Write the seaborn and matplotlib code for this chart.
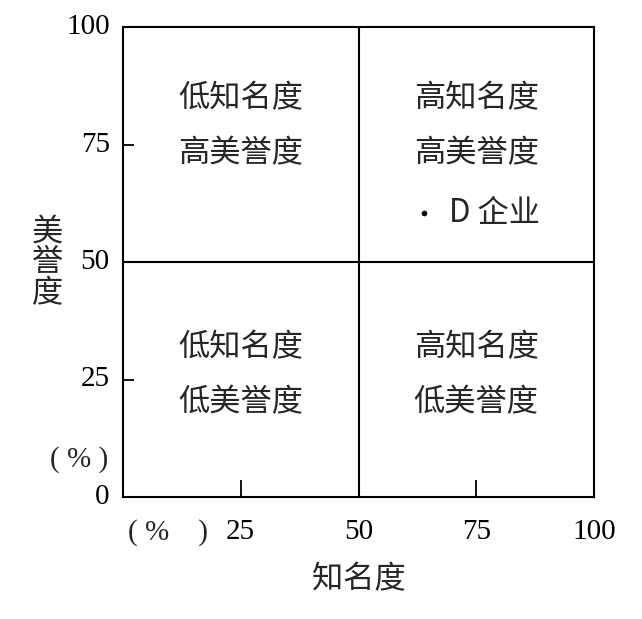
import matplotlib
matplotlib.use("Agg")
import matplotlib.pyplot as plt
import seaborn as sns
import pandas as pd

# data
quad_x = [25, 75, 25, 75]
quad_y = [79, 79, 26, 26]
quad_line1 = ["低知名度", "高知名度", "低知名度", "高知名度"]
quad_line2 = ["高美誉度", "高美誉度", "低美誉度", "低美誉度"]
point_name = ["D 企业"]
point_x = [64]
point_y = [60.5]
ticks = [0, 25, 50, 75, 100]
x_tick_labels = ["25", "50", "75", "100"]
divider = 50

sns.set_theme(style="white")
cjk = ["Noto Sans CJK SC", "DejaVu Sans"]
num_font = "Liberation Serif"
plt.rcParams["font.family"] = cjk

fig = plt.figure(figsize=(6.42, 6.19), dpi=100)
ax = fig.add_axes([123/642, 1-497/619, (594-123)/642, (497-27)/619])

df = pd.DataFrame({"x": point_x, "y": point_y, "name": point_name})
sns.scatterplot(data=df, x="x", y="y", ax=ax, color="black", s=14, marker="o", edgecolor="black", legend=False)

ax.axvline(divider, color="black", lw=1.5)
ax.axhline(divider, color="black", lw=1.5)

ax.set_xlim(0, 100)
ax.set_ylim(0, 100)
for s in ax.spines.values():
    s.set_color("black")
    s.set_linewidth(1.5)

ax.set_xticks([25, 75])
ax.set_xticklabels([])
ax.set_yticks([25, 75])
ax.set_yticklabels([])
ax.tick_params(axis="x", direction="in", length=12, width=1.3, color="black", bottom=True)
ax.tick_params(axis="y", direction="in", length=8, width=1.3, color="black", left=True)
ax.set_xlabel("")
ax.set_ylabel("")

# y tick labels
for v in ticks:
    ax.text(-2.8, v, str(v), ha="right", va="center", fontsize=21, family=num_font,
            color="black", clip_on=False)
# x tick labels
for v, lab in zip([25, 50, 75, 100], x_tick_labels):
    ax.text(v, -7.5, lab, ha="center", va="center", fontsize=21, family=num_font,
            color="black", clip_on=False)
ax.text(9.5, -7.5, "( %    )", ha="center", va="center", fontsize=21, family=num_font, clip_on=False)
ax.text(-9.3, 8.0, "( % )", ha="center", va="center", fontsize=21, family=num_font, clip_on=False)

# quadrant labels
for x, y, l1, l2 in zip(quad_x, quad_y, quad_line1, quad_line2):
    ax.text(x, y + 5.85, l1, ha="center", va="center", fontsize=22.5, family=cjk, weight="light")
    ax.text(x, y - 5.85, l2, ha="center", va="center", fontsize=22.5, family=cjk, weight="light")

for x, y, n in zip(point_x, point_y, point_name):
    ax.text(x + 5.3, y, n, ha="left", va="center", fontsize=22.5, family=cjk, weight="light")

# axis titles
ax.text(0.5, -0.175, "知名度", transform=ax.transAxes, ha="center", va="center",
        fontsize=22.5, family=cjk, weight="light")
ax.text(-0.16, 0.5, "美\n誉\n度", transform=ax.transAxes, ha="center", va="center",
        fontsize=22.5, family=cjk, weight="light", linespacing=0.95)

fig.savefig("out.png", dpi=100)
